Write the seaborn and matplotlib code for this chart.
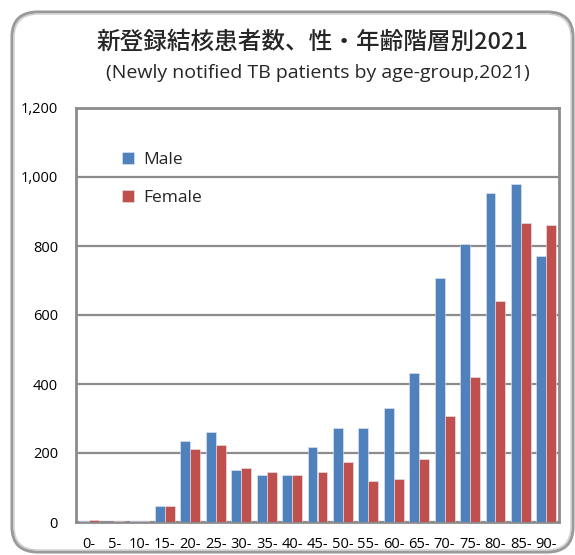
import matplotlib
matplotlib.use("Agg")
import matplotlib.pyplot as plt
import seaborn as sns
import pandas as pd
from matplotlib.patches import FancyBboxPatch
from matplotlib.ticker import FuncFormatter, FixedLocator

age_groups = ["0-", "5-", "10-", "15-", "20-", "25-", "30-", "35-", "40-", "45-",
              "50-", "55-", "60-", "65-", "70-", "75-", "80-", "85-", "90-"]
male = [2, 1, 2, 46, 234, 262, 152, 135, 135, 218, 272, 272, 329, 432, 707, 806, 953, 981, 772]
female = [7, 3, 3, 46, 212, 223, 157, 146, 135, 146, 174, 118, 124, 184, 306, 420, 640, 866, 861]
series_names = ["Male", "Female"]
colors = ["#4F81BD", "#C0504D"]
title_jp = "新登録結核患者数、性・年齢階層別2021"
title_en = "(Newly notified TB patients by age-group,2021)"
y_ticks = [0, 200, 400, 600, 800, 1000, 1200]

df = pd.DataFrame({
    "age": age_groups * 2,
    "count": male + female,
    "sex": [series_names[0]] * len(age_groups) + [series_names[1]] * len(age_groups),
})

sns.set_theme(style="white")
plt.rcParams["font.family"] = ["Open Sans", "DejaVu Sans"]

fig = plt.figure(figsize=(5.75, 5.55), dpi=100)
fig.patch.set_facecolor("white")

# rounded double border
W, H = 575, 555
outer = FancyBboxPatch((12 / W, 3 / H), 561 / W, 540 / H,
                       boxstyle="round,pad=0,rounding_size=0.045",
                       transform=fig.transFigure, fill=False,
                       edgecolor="#9a9a9a", linewidth=2.2, zorder=0)
inner = FancyBboxPatch((14 / W, 5 / H), 557 / W, 536 / H,
                       boxstyle="round,pad=0,rounding_size=0.043",
                       transform=fig.transFigure, fill=False,
                       edgecolor="#d0d0d0", linewidth=1.0, zorder=0)
fig.patches.extend([outer, inner])

ax = fig.add_axes([76 / W, (555 - 522) / H, (559 - 76) / W, (522 - 108) / H])
sns.barplot(data=df, x="age", y="count", hue="sex", palette=colors,
            order=age_groups, hue_order=series_names, width=0.78, saturation=1,
            edgecolor="#e4eaf2", linewidth=0.4, ax=ax, zorder=3)

ax.set_ylim(0, 1200)
ax.set_xlim(-0.5, len(age_groups) - 0.5)
ax.set_yticks(y_ticks)
ax.yaxis.set_major_formatter(FuncFormatter(lambda v, p: f"{int(v):,}"))
ax.set_xlabel("")
ax.set_ylabel("")
ax.grid(axis="y", color="#8c8c8c", linewidth=1.6, zorder=0)
ax.set_axisbelow(True)
for s in ax.spines.values():
    s.set_color("#8c8c8c")
    s.set_linewidth(2.0)

ax.tick_params(axis="y", labelsize=10.5, pad=13, length=0, colors="black")
ax.tick_params(axis="x", labelsize=10.5, pad=11, length=0, colors="black")
ax.xaxis.set_minor_locator(FixedLocator([i + 0.5 for i in range(len(age_groups) - 1)]))
ax.tick_params(axis="x", which="minor", direction="in", length=3, width=1.2, color="#8c8c8c")

leg = ax.legend(loc="upper left", bbox_to_anchor=(0.08, 0.91), frameon=False,
                fontsize=12.5, handlelength=0.7, handleheight=0.7,
                handletextpad=0.55, labelspacing=1.25, borderaxespad=0)

fig.text(312 / W, 1 - 42 / H, title_jp, ha="center", va="center", fontsize=17,
         fontweight="medium", family=["Noto Sans CJK JP", "DejaVu Sans"])
fig.text(318 / W, 1 - 73 / H, title_en, ha="center", va="center", fontsize=14)

fig.savefig("out.png", dpi=100, facecolor="white")
